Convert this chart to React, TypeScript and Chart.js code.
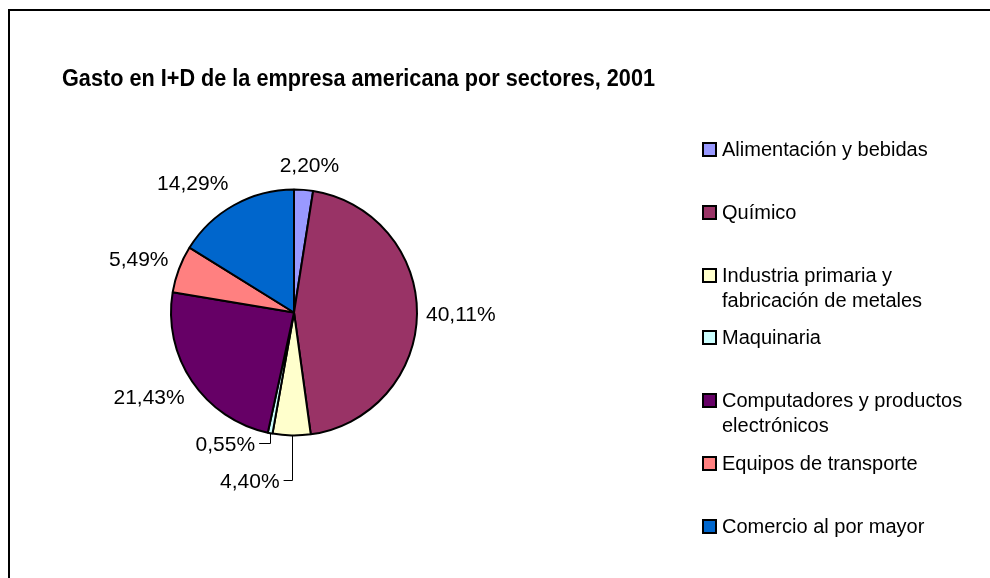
import React, { useEffect, useRef } from "react";
import { Chart, registerables } from "chart.js";

Chart.register(...registerables);

const TITLE = "Gasto en I+D de la empresa americana por sectores, 2001";
const categories = [
  "Alimentación y bebidas",
  "Químico",
  "Industria primaria y fabricación de metales",
  "Maquinaria",
  "Computadores y productos electrónicos",
  "Equipos de transporte",
  "Comercio al por mayor",
];
const values = [2.2, 40.11, 4.4, 0.55, 21.43, 5.49, 14.29];
const colors = ["#9999FF", "#993366", "#FFFFCC", "#CCFFFF", "#660066", "#FF8080", "#0066CC"];
// labels moved off the slice with a leader line: [dx, dy] from the slice edge
const leaderLabels: Record<number, [number, number]> = { 2: [-8, 45], 3: [-11, 10] };

const fmt = (v: number) => v.toFixed(2).replace(".", ",") + "%";
const clamp = (v: number) => Math.max(-1, Math.min(1, v));

function wrap(ctx: CanvasRenderingContext2D, text: string, maxW: number): string[] {
  const words = text.split(" ");
  const lines: string[] = [];
  let cur = "";
  for (const w of words) {
    const t = cur ? cur + " " + w : w;
    if (ctx.measureText(t).width > maxW && cur) {
      lines.push(cur);
      cur = w;
    } else cur = t;
  }
  if (cur) lines.push(cur);
  return lines;
}

const customPlugin = {
  id: "customDraw",
  afterDraw(chart: any) {
    const ctx: CanvasRenderingContext2D = chart.ctx;
    // title
    ctx.save();
    ctx.font = 'bold 23px "Liberation Sans Narrow", "Arial Narrow", "Liberation Sans", Arial, sans-serif';
    const tw = ctx.measureText(TITLE).width;
    ctx.translate(52, 75);
    ctx.scale(593 / tw, 1);
    ctx.fillStyle = "#000";
    ctx.textAlign = "left";
    ctx.textBaseline = "alphabetic";
    ctx.fillText(TITLE, 0, 0);
    ctx.restore();

    // data labels
    ctx.save();
    const meta = chart.getDatasetMeta(0);
    ctx.font = '21px "Liberation Sans", Arial, sans-serif';
    ctx.fillStyle = "#000";
    ctx.textBaseline = "alphabetic";
    meta.data.forEach((arc: any, i: number) => {
      const { x, y, startAngle, endAngle, outerRadius } = arc.getProps(
        ["x", "y", "startAngle", "endAngle", "outerRadius"],
        true
      );
      const mid = (startAngle + endAngle) / 2;
      const cx = Math.cos(mid);
      const cy = Math.sin(mid);
      const text = fmt(values[i]);
      const w = ctx.measureText(text).width;
      const h = 20;
      const lead = leaderLabels[i];
      if (lead) {
        const ex = x + outerRadius * cx;
        const ey = y + outerRadius * cy;
        const lx = ex + lead[0];
        const ly = Math.round(ey + lead[1]) + 0.5;
        const vx = Math.round(ex) + 0.5;
        ctx.strokeStyle = "#000";
        ctx.lineWidth = 1;
        ctx.beginPath();
        ctx.moveTo(vx, ey);
        ctx.lineTo(vx, ly);
        ctx.lineTo(lx, ly);
        ctx.stroke();
        ctx.textAlign = "right";
        ctx.fillText(text, lx - 4, ly + 7.5);
      } else {
        const d = outerRadius + 9 + 6 * Math.max(0, -cy);
        const px = x + d * cx;
        const py = y + d * cy;
        const bx = px + clamp(cx * 2) * (w / 2);
        const by = py + clamp(cy * 2) * (h / 2);
        ctx.textAlign = "center";
        ctx.fillText(text, bx, by + 7.5);
      }
    });
    ctx.restore();

    // legend
    ctx.save();
    ctx.font = '20px "Liberation Sans", Arial, sans-serif';
    ctx.textAlign = "left";
    ctx.textBaseline = "alphabetic";
    const startY = 138;
    const step = 62.8;
    categories.forEach((c, i) => {
      const cyy = startY + i * step;
      ctx.fillStyle = "#000";
      ctx.fillRect(692, Math.round(cyy - 7), 15, 15);
      ctx.fillStyle = colors[i];
      ctx.fillRect(694, Math.round(cyy - 5), 11, 11);
      ctx.fillStyle = "#000";
      const lines = wrap(ctx, c, 252);
      lines.forEach((ln, k) => {
        ctx.fillText(ln, 712, cyy + 7 + k * 25);
      });
    });
    ctx.restore();
  },
};

export default function App() {
  const ref = useRef<HTMLCanvasElement | null>(null);
  useEffect(() => {
    document.body.style.overflow = "hidden";
    if (!ref.current) return;
    const chart = new Chart(ref.current, {
      type: "pie",
      data: {
        labels: categories,
        datasets: [
          {
            data: values,
            backgroundColor: colors,
            borderColor: "#000",
            borderWidth: 2,
          },
        ],
      },
      options: {
        animation: false,
        responsive: true,
        maintainAspectRatio: false,
        radius: 123,
        layout: { padding: { left: 150, right: 562, top: 170, bottom: 134 } },
        plugins: {
          legend: { display: false },
          tooltip: { enabled: false },
          title: { display: false },
        },
      } as any,
      plugins: [customPlugin],
    });
    return () => chart.destroy();
  }, []);
  return (
    <div
      style={{
        position: "fixed",
        left: 8,
        top: 9,
        width: 980,
        height: 567,
        overflow: "hidden",
        borderTop: "2px solid #000",
        borderLeft: "2px solid #000",
        background: "#fff",
      }}
    >
      <canvas ref={ref} style={{ display: "block" }} />
    </div>
  );
}
